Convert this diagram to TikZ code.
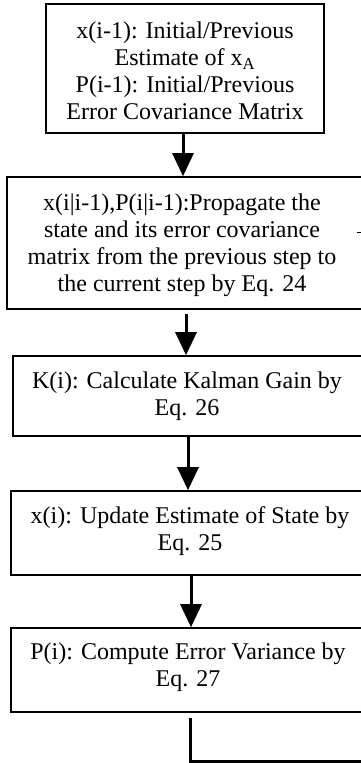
\documentclass[tikz,border=0pt]{standalone}
\usepackage{fontspec}
\setmainfont{Liberation Serif}
\usetikzlibrary{arrows.meta}
\begin{document}
\begin{tikzpicture}[x=1pt,y=-1pt,
  box/.style={draw,line width=1.6pt,rectangle,inner sep=0pt},
  txt/.style={align=center,font=\fontsize{24}{27}\selectfont,inner sep=0pt},
  arr/.style={line width=3pt,-{Triangle[width=21pt,length=23pt]}},
  fb/.style={line width=3pt}
  ]
\useasboundingbox (0,0) rectangle (361,763);
\clip (0,0) rectangle (361,763);
\node[box,minimum width=278pt,minimum height=129pt] (b1) at (185,68.5) {};
\node[box,minimum width=359pt,minimum height=132pt] (b2) at (186.5,243) {};
\node[box,minimum width=353pt,minimum height=80pt] (b3) at (189.5,396) {};
\node[box,minimum width=355pt,minimum height=84pt] (b4) at (188.5,533) {};
\node[box,minimum width=355pt,minimum height=84pt] (b5) at (188.5,670) {};
\node[txt] (t1) at (185,71) {x(i-1): Initial/Previous\\Estimate of x\textsubscript{A}\\P(i-1): Initial/Previous\\Error Covariance Matrix};
\node[txt] (t2) at (182,245) {x(i|i-1),P(i|i-1):Propagate the\\state and its error covariance\\matrix from the previous step to\\the current step by Eq. 24};
\node[txt] (t3) at (187,396) {K(i): Calculate Kalman Gain by\\Eq. 26};
\node[txt] (t4) at (190,531) {x(i): Update Estimate of State by\\Eq. 25};
\node[txt] (t5) at (188,667) {P(i): Compute Error Variance by\\Eq. 27};
\coordinate (a1) at (183,0);
\coordinate (a2) at (186,0);
\coordinate (a3) at (188,0);
\coordinate (a4) at (191,0);
\coordinate (a5) at (190,0);
\draw[arr] (b1.south -| a1) -- (b2.north -| a1);
\draw[arr,shorten <=4pt] (b2.south -| a2) -- (b3.north -| a2);
\draw[arr] (b3.south -| a3) -- (b4.north -| a3);
\draw[arr] (b4.south -| a4) -- (b5.north -| a4);
\coordinate (c1) at (190,761.5);
\coordinate (c2) at (370,761.5);
\draw[fb,shorten <=5pt] (b5.south -| a5) -- (c1) -- (c2);
\coordinate (k1) at (357,232);
\coordinate (k2) at (361,232);
\draw[line width=0.8pt] (k1) -- (k2);
\end{tikzpicture}
\end{document}
